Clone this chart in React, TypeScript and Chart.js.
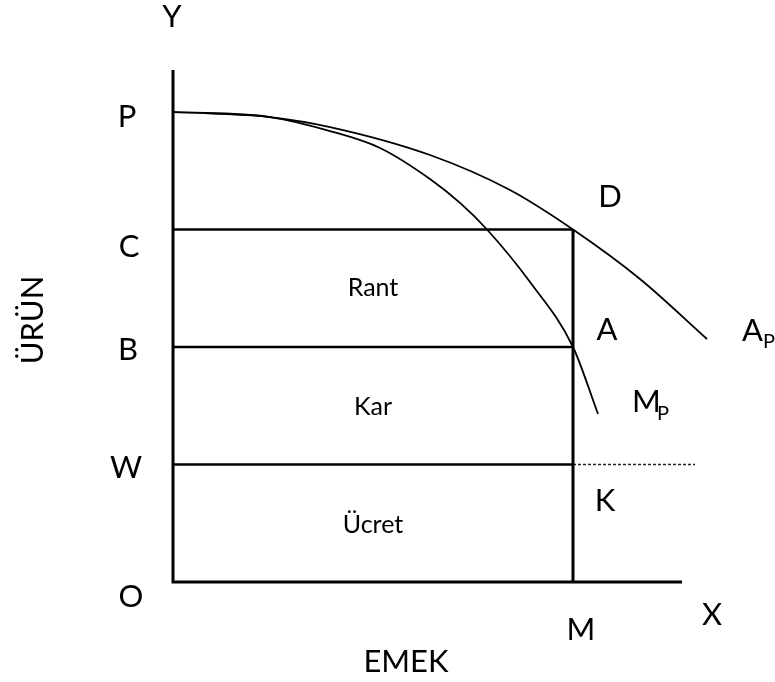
import React, { useEffect, useRef } from "react";
import { Chart, registerables } from "chart.js";

Chart.register(...registerables);

// ---- data (in diagram units: labour on x, product on y) ----
const levelNames = ["C", "B", "W"];
const levelValues = [3, 2, 1];
const pLevel = 4;
const mLabour = 10;
const axisYTop = 4.357;
const axisXEnd = 12.725;
const wageExtensionEnd = 13.05;

// Marginal product curve (M_P)
const mpX = [0, 2.425, 3.925, 5.175, 6.425, 7.175, 7.85, 8.925, 10, 10.625];
const mpY = [4.0, 3.957, 3.838, 3.694, 3.43, 3.226, 3.0, 2.553, 2.0, 1.43];

// Average product curve (A_P)
const apX = [0.8, 2.425, 3.925, 6.425, 8.425, 10, 11.675, 13.35];
const apY = [3.991, 3.957, 3.872, 3.634, 3.336, 3.0, 2.579, 2.068];

// text annotations (anchor in diagram units, baseline)
type Lbl = { text: string; x: number; y: number; size: number; align?: CanvasTextAlign; rot?: boolean };
const BIG = 31;
const MID = 25;
const SUB = 20;
const labels: Lbl[] = [
  { text: "Y", x: -0.025, y: 4.723, size: BIG },
  { text: "P", x: -1.15, y: 3.872, size: BIG },
  { text: "C", x: -1.1, y: 2.766, size: BIG },
  { text: "B", x: -1.125, y: 1.889, size: BIG },
  { text: "W", x: -1.175, y: 0.885, size: BIG },
  { text: "O", x: -1.05, y: -0.215, size: BIG },
  { text: "X", x: 13.475, y: -0.366, size: BIG },
  { text: "M", x: 10.2, y: -0.494, size: BIG },
  { text: "EMEK", x: 5.825, y: -0.766, size: BIG },
  { text: "D", x: 10.925, y: 3.191, size: BIG },
  { text: "A", x: 10.85, y: 2.06, size: BIG },
  { text: "K", x: 10.8, y: 0.604, size: BIG },
  { text: "A", x: 14.225, y: 2.051, size: BIG, align: "left" },
  { text: "P", x: 14.75, y: 1.991, size: SUB, align: "left" },
  { text: "M", x: 11.475, y: 1.447, size: BIG, align: "left" },
  { text: "P", x: 12.1, y: 1.379, size: SUB, align: "left" },
  { text: "Rant", x: 5.0, y: 2.434, size: MID },
  { text: "Kar", x: 5.0, y: 1.421, size: MID },
  { text: "Ücret", x: 5.0, y: 0.417, size: MID },
  { text: "ÜRÜN", x: -3.25, y: 2.23, size: BIG, rot: true },
];

const FONT = "Lato, 'Open Sans', sans-serif";

const textPlugin = {
  id: "diagramText",
  afterDatasetsDraw(chart: any) {
    const ctx = chart.ctx as CanvasRenderingContext2D;
    const xs = chart.scales.x;
    const ys = chart.scales.y;
    ctx.save();
    ctx.fillStyle = "#000";
    ctx.textBaseline = "alphabetic";
    for (const l of labels) {
      const px = xs.getPixelForValue(l.x);
      const py = ys.getPixelForValue(l.y);
      ctx.font = `${l.size}px ${FONT}`;
      ctx.textAlign = l.align || "center";
      if (l.rot) {
        ctx.save();
        ctx.translate(px, py);
        ctx.rotate(-Math.PI / 2);
        ctx.fillText(l.text, 0, 0);
        ctx.restore();
      } else {
        ctx.fillText(l.text, px, py);
      }
    }
    ctx.restore();
  },
};

const pts = (xs: number[], ys: number[]) => xs.map((x, i) => ({ x, y: ys[i] }));

export default function App() {
  const ref = useRef<HTMLCanvasElement | null>(null);
  useEffect(() => {
    if (!ref.current) return;
    const base = { pointRadius: 0, borderColor: "#000", fill: false, tension: 0 };
    const datasets: any[] = [
      // axes
      { ...base, data: [{ x: 0, y: axisYTop }, { x: 0, y: 0 }, { x: axisXEnd, y: 0 }], borderWidth: 3, borderJoinStyle: "miter" },
      // horizontal level lines
      ...levelValues.map((v) => ({ ...base, data: [{ x: 0, y: v }, { x: mLabour, y: v }], borderWidth: 2.5 })),
      // vertical at M
      { ...base, data: [{ x: mLabour, y: levelValues[0] }, { x: mLabour, y: 0 }], borderWidth: 3 },
      // dashed wage extension
      { ...base, data: [{ x: mLabour, y: levelValues[2] }, { x: wageExtensionEnd, y: levelValues[2] }], borderWidth: 1.5, borderDash: [3, 2], borderColor: "#222" },
      // M_P
      { ...base, data: pts(mpX, mpY), borderWidth: 1.8, cubicInterpolationMode: "monotone" },
      // A_P
      { ...base, data: pts(apX, apY), borderWidth: 1.8, cubicInterpolationMode: "monotone" },
    ];
    const chart = new Chart(ref.current, {
      type: "line",
      data: { datasets },
      options: {
        animation: false,
        responsive: false,
        maintainAspectRatio: false,
        layout: { padding: 0 },
        parsing: false as any,
        plugins: { legend: { display: false }, tooltip: { enabled: false }, title: { display: false } },
        scales: {
          x: { type: "linear", min: -4.325, max: 15.05, display: false },
          y: { type: "linear", min: -0.851, max: 4.953, display: false },
        },
      },
      plugins: [textPlugin],
    });
    return () => chart.destroy();
  }, []);
  return (
    <div style={{ position: "absolute", left: 0, top: 0, width: 775, height: 682, background: "#fff" }}>
      <canvas ref={ref} width={775} height={682} style={{ display: "block" }} />
    </div>
  );
}
